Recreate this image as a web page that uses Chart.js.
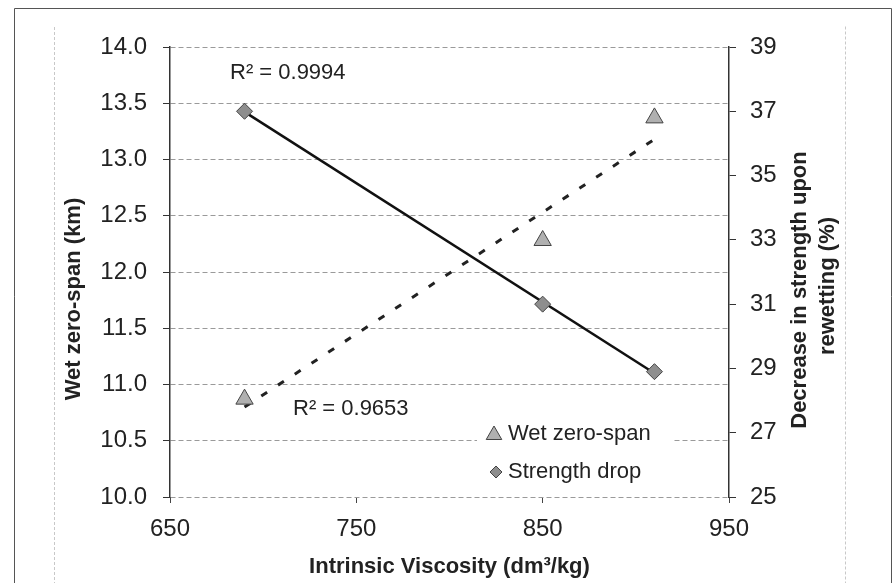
<!DOCTYPE html>
<html>
<head>
<meta charset="utf-8">
<script src="https://cdn.jsdelivr.net/npm/chart.js@4.4.1/dist/chart.umd.min.js"></script>
<style>
body{margin:0;background:#fff;}
#c{display:block;}
</style>
</head>
<body>
<canvas id="c" width="896" height="583"></canvas>
<script>

// intrinsic viscosity of the three pulps
const viscosity = [690, 850, 910];
const wetZeroSpan = [10.87, 12.28, 13.37];   // km, left axis
const strengthDrop = [37.0, 31.0, 28.9];     // %, right axis

// trendline ends
const trendX = [690, 910];
const wetTrend = [10.80, 13.18];
const dropTrend = [36.98, 28.85];

const xTicks = [650, 750, 850, 950];
const leftTicks = [10.0, 10.5, 11.0, 11.5, 12.0, 12.5, 13.0, 13.5, 14.0];
const rightTicks = [25, 27, 29, 31, 33, 35, 37, 39];

const r2Labels = ["R\u00B2 = 0.9994", "R\u00B2 = 0.9653"];
const legendNames = ["Wet zero-span", "Strength drop"];

Chart.defaults.font.family = "'Liberation Sans', Arial, sans-serif";
Chart.defaults.color = "#222";

function pts(xs, ys){
return xs.map((x,i)=>({x:x,y:ys[i]}));
}

function drawTri(ctx,x,y,r){
ctx.beginPath();
ctx.moveTo(x, y-r);
ctx.lineTo(x+r*0.866, y+r*0.5);
ctx.lineTo(x-r*0.866, y+r*0.5);
ctx.closePath();
ctx.fill();
ctx.stroke();
}

function drawDiamond(ctx,x,y,r){
ctx.beginPath();
ctx.moveTo(x, y-r);
ctx.lineTo(x+r, y);
ctx.lineTo(x, y+r);
ctx.lineTo(x-r, y);
ctx.closePath();
ctx.fill();
ctx.stroke();
}

const extras = {
id:"extras",
beforeDraw(chart){
const ctx = chart.ctx;
ctx.save();
// outer frame of the scanned figure
ctx.strokeStyle="#555";
ctx.lineWidth=1;
ctx.beginPath();
ctx.moveTo(14.5,590);ctx.lineTo(14.5,8.5);ctx.lineTo(891.5,8.5);ctx.lineTo(891.5,590);
ctx.stroke();
// faint inner chart-area frame
ctx.strokeStyle="#c8c8c8";
ctx.setLineDash([3,2]);
ctx.beginPath();
ctx.moveTo(54.5,590);ctx.lineTo(54.5,26.5);
ctx.moveTo(845.5,26.5);ctx.lineTo(845.5,590);
ctx.stroke();
ctx.restore();
},
afterDraw(chart){
const ctx = chart.ctx;
ctx.save();
ctx.fillStyle="#222";

// y axis titles
ctx.font="bold 22px 'Liberation Sans', Arial, sans-serif";
ctx.textAlign="center";
ctx.textBaseline="middle";
ctx.save();
ctx.translate(74,299);
ctx.rotate(-Math.PI/2);
ctx.fillText("Wet zero-span (km)",0,0);
ctx.restore();

ctx.save();
ctx.translate(800,290);
ctx.rotate(-Math.PI/2);
ctx.fillText("Decrease in strength upon",0,0);
ctx.restore();
ctx.save();
ctx.translate(828,286);
ctx.rotate(-Math.PI/2);
ctx.fillText("rewetting (%)",0,0);
ctx.restore();

// R squared labels
ctx.font="22px 'Liberation Sans', Arial, sans-serif";
ctx.textAlign="left";
ctx.fillText(r2Labels[0],230,73);
ctx.fillText(r2Labels[1],293,409);

// legend
ctx.fillStyle="#fff";
ctx.fillRect(477,416,197,76);
ctx.lineWidth=1;
ctx.strokeStyle="#444";
ctx.fillStyle="#b0b0b0";
drawTri(ctx,494,435,9);
ctx.fillStyle="#8e8e8e";
drawDiamond(ctx,496,472,6);
ctx.fillStyle="#222";
ctx.font="22px 'Liberation Sans', Arial, sans-serif";
ctx.fillText(legendNames[0],508,434);
ctx.fillText(legendNames[1],508,472);
ctx.restore();
}
};

new Chart(document.getElementById("c"),{
type:"scatter",
data:{
datasets:[
{
label:legendNames[0],
data:pts(viscosity,wetZeroSpan),
yAxisID:"y",
pointStyle:"triangle",
pointRadius:10,
backgroundColor:"#b0b0b0",
borderColor:"#444",
borderWidth:1,
order:0
},
{
label:legendNames[1],
data:pts(viscosity,strengthDrop),
yAxisID:"y2",
pointStyle:"rectRot",
pointRadius:8,
backgroundColor:"#8e8e8e",
borderColor:"#444",
borderWidth:1,
order:0
},
{
label:"wet trend",
data:pts(trendX,wetTrend),
yAxisID:"y",
showLine:true,
pointRadius:0,
borderColor:"#222",
borderWidth:3,
borderDash:[7,13],
order:1
},
{
label:"drop trend",
data:pts(trendX,dropTrend),
yAxisID:"y2",
showLine:true,
pointRadius:0,
borderColor:"#111",
borderWidth:2.5,
order:1
}
]
},
options:{
responsive:false,
animation:false,
layout:{padding:{top:47,left:0,right:0,bottom:0}},
plugins:{
legend:{display:false},
tooltip:{enabled:false}
},
scales:{
x:{
type:"linear",
min:650,
max:950,
afterBuildTicks(s){ s.ticks = xTicks.map(v=>({value:v})); },
afterFit(s){ s.height = 86; },
ticks:{font:{size:24},padding:12,color:"#222"},
grid:{drawOnChartArea:false,drawTicks:true,tickLength:6,color:"#444"},
border:{display:false},
title:{
display:true,
text:"Intrinsic Viscosity (dm\u00B3/kg)",
font:{size:22,weight:"bold"},
color:"#222",
padding:{top:0,bottom:3}
}
},
y:{
position:"left",
min:10,
max:14,
afterBuildTicks(s){ s.ticks = leftTicks.map(v=>({value:v})); },
afterFit(s){ s.width = 170; },
ticks:{font:{size:24},padding:16,color:"#222",callback:v=>Number(v).toFixed(1)},
grid:{color:"#9a9a9a",lineWidth:1,tickLength:7,tickColor:"#333"},
border:{display:true,color:"#333",width:1.5,dash:[5,3]}
},
y2:{
position:"right",
min:25,
max:39,
afterBuildTicks(s){ s.ticks = rightTicks.map(v=>({value:v})); },
afterFit(s){ s.width = 167; },
ticks:{font:{size:24},padding:14,color:"#222"},
grid:{drawOnChartArea:false,tickLength:7,color:"#333"},
border:{display:true,color:"#333",width:1.5}
}
}
},
plugins:[extras]
});

</script>
</body>
</html>
